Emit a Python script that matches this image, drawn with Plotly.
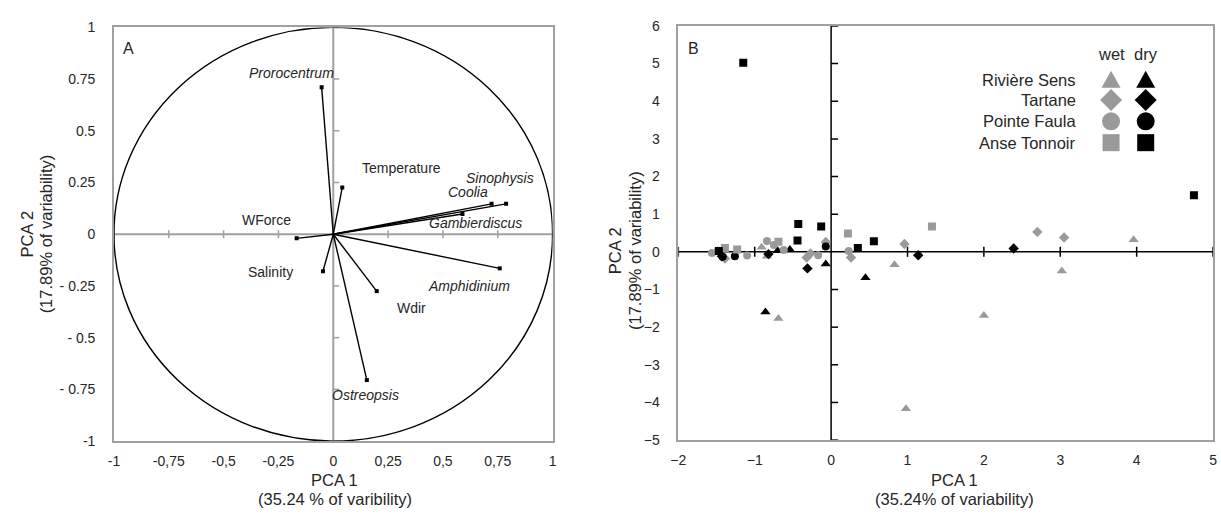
import plotly.graph_objects as go

W, H = 1221, 514

# ---------------- Panel A: correlation circle (variable loadings) ----------------
var_names = ["Prorocentrum", "Temperature", "Sinophysis", "Coolia", "Gambierdiscus",
             "WForce", "Salinity", "Amphidinium", "Wdir", "Ostreopsis"]
var_pc1 = [-0.053, 0.041, 0.788, 0.722, 0.589, -0.167, -0.047, 0.759, 0.198, 0.153]
var_pc2 = [0.710, 0.226, 0.147, 0.147, 0.098, -0.020, -0.179, -0.165, -0.275, -0.705]
var_italic = [True, False, True, True, True, False, False, True, False, True]
# label anchor (text centre) for each variable
lab_x = [-0.19, 0.31, 0.76, 0.615, 0.647, -0.305, -0.287, 0.621, 0.356, 0.149]
lab_y = [0.78, 0.32, 0.27, 0.204, 0.055, 0.07, -0.185, -0.25, -0.356, -0.778]

a_ticks = [-1, -0.75, -0.5, -0.25, 0, 0.25, 0.5, 0.75, 1]
a_xticktext = ["-1", "-0,75", "-0,5", "-0,25", "0", "0,25", "0,5", "0,75", "1"]
a_yticktext = ["-1", "- 0.75", "- 0.5", "- 0.25", "0", "0.25", "0.5", "0.75", "1"]

# ---------------- Panel B: observation scores ----------------
rs_wet_x = [-0.91, -0.84, -0.69, 0.83, 0.98, 2.00, 3.02, 3.96]
rs_wet_y = [0.12, -0.12, -1.77, -0.34, -4.17, -1.69, -0.51, 0.32]
rs_dry_x = [-0.86, -0.70, -0.54, -0.07, 0.45]
rs_dry_y = [-1.60, 0.03, 0.06, -0.32, -0.69]

ta_wet_x = [-1.39, -0.32, -0.27, -0.07, 0.26, 0.96, 2.70, 3.05]
ta_wet_y = [-0.18, -0.15, -0.04, 0.26, -0.15, 0.21, 0.53, 0.38]
ta_dry_x = [-1.43, -0.82, -0.31, 1.14, 2.39]
ta_dry_y = [-0.12, -0.06, -0.44, -0.09, 0.09]

pf_wet_x = [-1.56, -1.48, -1.10, -0.84, -0.75, -0.62, -0.17, 0.23]
pf_wet_y = [-0.03, 0.03, -0.10, 0.29, 0.18, 0.05, -0.09, 0.02]
pf_dry_x = [-1.42, -1.26, -0.07]
pf_dry_y = [-0.13, -0.12, 0.14]

at_wet_x = [-1.39, -1.23, -0.69, 0.22, 1.32]
at_wet_y = [0.10, 0.06, 0.27, 0.49, 0.67]
at_dry_x = [-1.15, -1.47, -0.44, -0.43, -0.13, 0.35, 0.56, 4.75]
at_dry_y = [5.02, 0.02, 0.30, 0.74, 0.67, 0.10, 0.28, 1.50]

b_xticks = [-2, -1, 0, 1, 2, 3, 4, 5]
b_yticks = [-5, -4, -3, -2, -1, 0, 1, 2, 3, 4, 5, 6]

sites = ["Rivière Sens", "Tartane", "Pointe Faula", "Anse Tonnoir"]
seasons = ["wet", "dry"]

WET = "#9a9a9a"
DRY = "#000000"
FRAME = "#a0a0a0"
TXT = "#262626"
FONT = "Liberation Sans, Arial, sans-serif"


def px(x):
    return x / W


def py(y):
    return 1 - y / H


def label(x, y, text, size, **kw):
    """Text placed in window pixels, centred on (x, y)."""
    d = dict(x=px(x), y=py(y), xref="paper", yref="paper", text=text, showarrow=False,
             xanchor="center", yanchor="middle", font=dict(family=FONT, size=size, color=TXT))
    d.update(kw)
    return d


fig = go.Figure()

# ---- Panel A traces ----
vx, vy = [], []
for x, y in zip(var_pc1, var_pc2):
    vx += [0, x, None]
    vy += [0, y, None]
fig.add_trace(go.Scatter(x=vx, y=vy, mode="lines", line=dict(color="black", width=1.4),
                         xaxis="x", yaxis="y", hoverinfo="skip", showlegend=False))
fig.add_trace(go.Scatter(x=var_pc1, y=var_pc2, mode="markers",
                         marker=dict(symbol="square", size=4, color="black"),
                         xaxis="x", yaxis="y", text=var_names, showlegend=False))

# ---- Panel B traces ----
groups = [
    (rs_wet_x, rs_wet_y, "triangle-up", WET, 9),
    (rs_dry_x, rs_dry_y, "triangle-up", DRY, 9),
    (ta_wet_x, ta_wet_y, "diamond", WET, 8),
    (ta_dry_x, ta_dry_y, "diamond", DRY, 8),
    (pf_wet_x, pf_wet_y, "circle", WET, 8),
    (pf_dry_x, pf_dry_y, "circle", DRY, 8),
    (at_wet_x, at_wet_y, "square", WET, 8),
    (at_dry_x, at_dry_y, "square", DRY, 8),
]
for gx, gy, sym, col, sz in groups:
    fig.add_trace(go.Scatter(x=gx, y=gy, mode="markers",
                             marker=dict(symbol=sym, size=sz, color=col, line=dict(width=0)),
                             xaxis="x2", yaxis="y2", showlegend=False))

shapes = []
# unit circle
shapes.append(dict(type="circle", xref="x", yref="y", x0=-1, y0=-1, x1=1, y1=1,
                   line=dict(color="black", width=1.4), layer="above"))
# zero axes of panel A
shapes.append(dict(type="line", xref="x", yref="y", x0=-1, x1=1, y0=0, y1=0,
                   line=dict(color=FRAME, width=2), layer="below"))
shapes.append(dict(type="line", xref="x", yref="y", x0=0, x1=0, y0=-1, y1=1,
                   line=dict(color=FRAME, width=2), layer="below"))
for t in a_ticks:
    if t == 0:
        continue
    shapes.append(dict(type="line", xref="x", yref="y", ysizemode="pixel", yanchor=0,
                       x0=t, x1=t, y0=-4, y1=4, line=dict(color=FRAME, width=1.5), layer="below"))
    shapes.append(dict(type="line", xref="x", yref="y", xsizemode="pixel", xanchor=0,
                       y0=t, y1=t, x0=0, x1=6, line=dict(color=FRAME, width=1.5), layer="below"))

# zero axes of panel B
shapes.append(dict(type="line", xref="x2", yref="y2", x0=-2, x1=5, y0=0, y1=0,
                   line=dict(color="black", width=1.5), layer="below"))
shapes.append(dict(type="line", xref="x2", yref="y2", x0=0, x1=0, y0=-5, y1=6,
                   line=dict(color="black", width=1.5), layer="below"))
for t in b_xticks:
    if t == 0:
        continue
    shapes.append(dict(type="line", xref="x2", yref="y2", ysizemode="pixel", yanchor=0,
                       x0=t, x1=t, y0=-5, y1=5, line=dict(color="black", width=1.5), layer="below"))
for t in b_yticks:
    if t == 0:
        continue
    shapes.append(dict(type="line", xref="x2", yref="y2", xsizemode="pixel", xanchor=0,
                       y0=t, y1=t, x0=0, x1=7, line=dict(color="black", width=1.5), layer="below"))

# legend keys of panel B (pixel-sized symbols)
key_paths = {
    "triangle": "M -9.5,-8 L 9.5,-8 L 0,9 Z",
    "diamond": "M -11,0 L 0,11 L 11,0 L 0,-11 Z",
}
key_kinds = ["triangle", "diamond", "circle", "square"]
row_y = [74, 95, 117, 139]
key_x = [1114, 1149]
for kind, ry in zip(key_kinds, row_y):
    for kx, col in zip(key_x, [WET, DRY]):
        base = dict(xref="paper", yref="paper", xsizemode="pixel", ysizemode="pixel",
                    xanchor=px(kx), yanchor=py(ry), fillcolor=col, line=dict(width=0),
                    layer="above")
        if kind in key_paths:
            base.update(type="path", path=key_paths[kind])
        elif kind == "circle":
            base.update(type="circle", x0=-9, x1=9, y0=-9, y1=9)
        else:
            base.update(type="rect", x0=-8.5, x1=8.5, y0=-8.5, y1=8.5)
        shapes.append(base)

annotations = []
# variable labels
for name, lx, ly, it in zip(var_names, lab_x, lab_y, var_italic):
    annotations.append(dict(x=lx, y=ly, xref="x", yref="y", text=f"<i>{name}</i>" if it else name,
                            showarrow=False, xanchor="center", yanchor="middle",
                            font=dict(family=FONT, size=14, color=TXT)))

# panel letters
annotations.append(label(122, 42, "A", 16))
annotations.append(label(692, 42, "B", 16))

# axis titles
for cx, sub in [(330, "(35.24 % of varibility)"), (956, "(35.24% of variability)")]:
    annotations.append(label(cx, 487, "PCA 1", 16.5))
    annotations.append(label(cx, 507, sub, 16.5))
for (x1, x2, cy) in [(19, 38, 233), (613, 633, 250)]:
    annotations.append(label(x1, cy, "PCA 2", 16.5, textangle=-90))
    annotations.append(label(x2, cy, "(17.89% of variability)", 16.5, textangle=-90))

# legend text of panel B
annotations.append(label(1114, 47, "wet", 16.5))
annotations.append(label(1149, 47, "dry", 16.5))
for site, ry in zip(sites, row_y):
    annotations.append(label(1081, ry, site, 16.5, xanchor="right"))

axis_common = dict(showgrid=False, zeroline=False, showline=True, linecolor=FRAME, linewidth=1.5,
                   mirror=True, ticks="", tickfont=dict(family=FONT, size=14, color=TXT),
                   fixedrange=True)

fig.update_layout(
    width=W, height=H,
    margin=dict(l=0, r=0, t=0, b=0),
    paper_bgcolor="white", plot_bgcolor="white",
    showlegend=False,
    xaxis=dict(domain=[px(107), px(550)], range=[-1, 1], tickmode="array",
               tickvals=a_ticks, ticktext=a_xticktext, anchor="y", ticklabelstandoff=6,
               **axis_common),
    yaxis=dict(domain=[py(447), py(20)], range=[-1, 1], tickmode="array",
               tickvals=a_ticks, ticktext=a_yticktext, anchor="x", ticklabelstandoff=14,
               **axis_common),
    xaxis2=dict(domain=[px(677), px(1217)], range=[-2, 5], tickmode="array",
                tickvals=b_xticks, anchor="y2", ticklabelstandoff=6, **axis_common),
    yaxis2=dict(domain=[py(446), py(18.5)], range=[-5, 6], tickmode="array",
                tickvals=b_yticks, anchor="x2", ticklabelstandoff=14, **axis_common),
    shapes=shapes,
    annotations=annotations,
)

fig.write_html("out.html")
